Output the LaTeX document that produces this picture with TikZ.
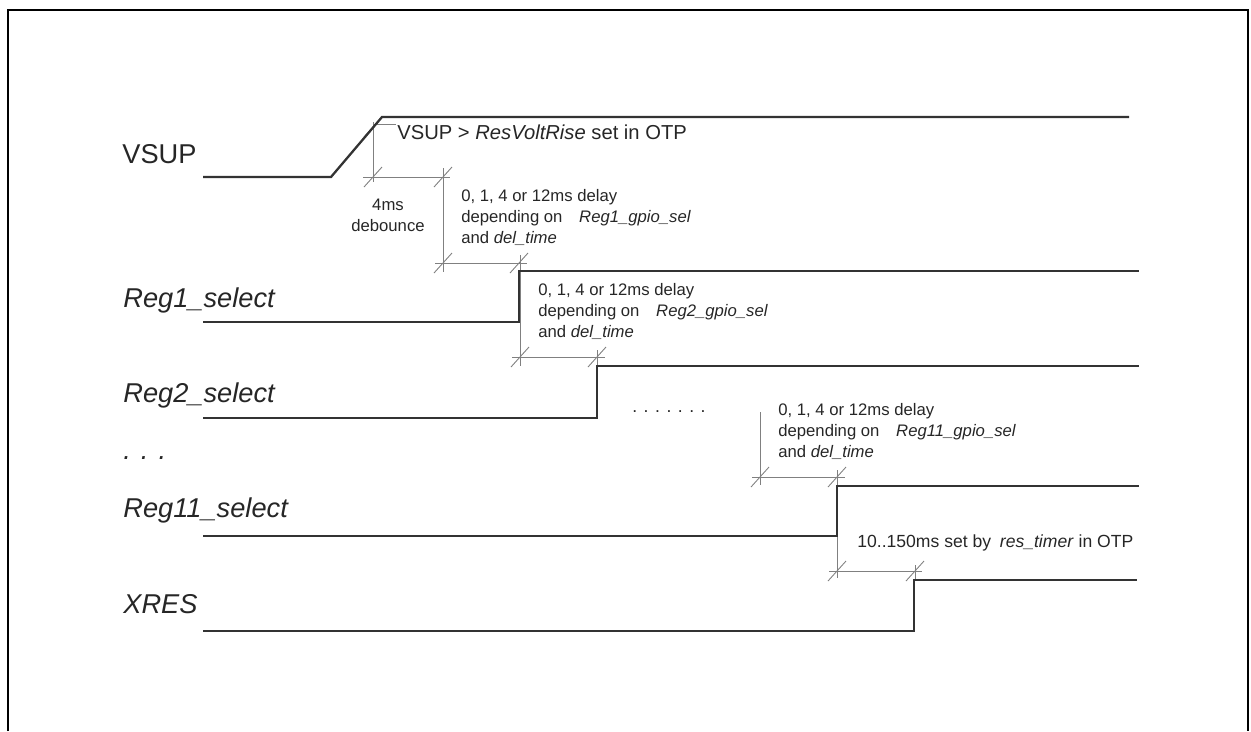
\documentclass[tikz,border=0pt]{standalone}
\usepackage{fontspec}
\setmainfont{Liberation Sans}
\begin{document}
\begin{tikzpicture}[x=0.02cm,y=-0.02cm,
  sig/.style={line width=1.3pt,color=black!80},
  dim/.style={line width=0.5pt,color=black!50},
  lbl/.style={font=\fontsize{15.5}{18}\selectfont\itshape,anchor=base west,inner sep=0pt,text=black!85},
  note/.style={font=\fontsize{9.5}{12}\selectfont,align=left,anchor=north west,inner sep=0pt,text=black!85}]
\useasboundingbox (0,0) rectangle (1251,731);
\draw[line width=1.4pt] (8,731) -- (8,10) -- (1248,10) -- (1248,731);
\node[lbl,font=\fontsize{15.5}{18}\selectfont] (vsup) at (122,163) {VSUP};
\node[lbl] (reg1) at (123,307) {Reg1\_select};
\node[lbl] (reg2) at (123,402) {Reg2\_select};
\node[lbl] (gap) at (123,459) {. . .};
\node[lbl] (reg11) at (123,517) {Reg11\_select};
\node[lbl] (xres) at (123,613) {XRES};
\draw[dim] (373,122) -- (373,182);
\draw[dim] (373,124) -- (396,124);
\draw[dim] (363,177) -- (450,177);
\draw[dim] (443,168) -- (443,272);
\draw[dim] (435,263) -- (527,263);
\draw[dim] (520,255) -- (520,366);
\draw[dim] (512,357) -- (605,357);
\draw[dim] (597,350) -- (597,366);
\draw[dim] (760,412) -- (760,485);
\draw[dim] (752,477) -- (845,477);
\draw[dim] (837,470) -- (837,578);
\draw[dim] (829,571) -- (922,571);
\draw[dim] (915,565) -- (915,580);
\foreach \x/\y in {373/127,373/177,443/177,443/263,519/263,520/357,597/357,760/477,837/477,837/571,915/571}
  \draw[dim] (\x,\y) ++(-9,10) -- ++(18,-20);
\draw[sig] (203,177) -- (331,177) -- (382,117) -- (1129,117);
\draw[sig] (203,322) -- (519,322) -- (519,271) -- (1139,271);
\draw[sig] (203,418) -- (597,418) -- (597,366) -- (1139,366);
\draw[sig] (203,536) -- (837,536) -- (837,486) -- (1139,486);
\draw[sig] (203,631) -- (914,631) -- (914,580) -- (1137,580);
\node[note,anchor=base west,font=\fontsize{11.5}{13}\selectfont] (rise) at (397,139) {VSUP > \textit{ResVoltRise} set in OTP};
\node[note,align=center,anchor=north] (deb) at (388,199) {4ms\\debounce};
\node[note] (d1) at (461,189) {0, 1, 4 or\ 12ms delay\\depending on\quad\textit{Reg1\_gpio\_sel}\\and \textit{del\_time}};
\node[note] (d2) at (538,283) {0, 1, 4 or\ 12ms delay\\depending on\quad\textit{Reg2\_gpio\_sel}\\and \textit{del\_time}};
\node[note,anchor=base west,font=\fontsize{10}{12}\selectfont] (more) at (632,412) {. . . . . . .};
\node[note] (d11) at (778,403) {0, 1, 4 or\ 12ms delay\\depending on\quad\textit{Reg11\_gpio\_sel}\\and \textit{del\_time}};
\node[note,anchor=base west,font=\fontsize{10}{12}\selectfont] (res) at (857,547) {10..150ms set by\enspace\textit{res\_timer} in OTP};
\end{tikzpicture}
\end{document}
